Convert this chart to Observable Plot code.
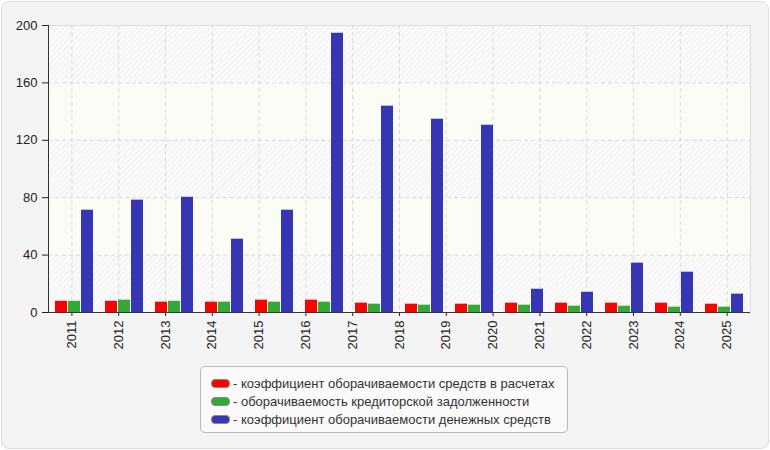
<!DOCTYPE html>
<html><head><meta charset="utf-8">
<script src="https://cdn.jsdelivr.net/npm/d3@7"></script>
<script src="https://cdn.jsdelivr.net/npm/@observablehq/plot@0.6"></script>
<style>
html,body{margin:0;padding:0;background:#fff;width:770px;height:450px;overflow:hidden;}
#panel{position:absolute;left:1px;top:1px;width:766px;height:446px;border:1px solid #dcdcdc;border-radius:8px;background:#f4f4f4;}
.layer{position:absolute;left:0;top:0;}
#legend{position:absolute;left:200px;top:366px;width:368px;height:67px;border:1px solid #b9b9b9;border-radius:5px;background:#fafafa;box-sizing:border-box;padding-top:7px;font-family:"Liberation Sans",Arial,sans-serif;font-size:13px;color:#333;}
.row{height:18px;display:flex;align-items:center;padding-left:10px;white-space:nowrap;}
.sw{width:17px;height:7px;border:1px solid #8a8a8a;border-radius:4px;margin-right:3px;}
</style></head><body>
<div id="panel"></div>
<div id="back" class="layer"></div>
<div id="bars" class="layer"></div>
<div id="legend"></div>
<script>
// tick labels on the x axis
const years = ["2011","2012","2013","2014","2015","2016","2017","2018","2019","2020","2021","2022","2023","2024","2025"];
// y ticks
const yTicks = [0, 40, 80, 120, 160, 200];
// series (14 bar groups as drawn in the reference)
const seriesNames = [
  "коэффициент оборачиваемости средств в расчетах",
  "оборачиваемость кредиторской задолженности",
  "коэффициент оборачиваемости денежных средств"
];
const seriesColors = ["#ff0000", "#35a935", "#3636b4"];
const receivablesTurnover = [7.8, 7.8, 7.2, 7.2, 8.6, 8.6, 6.5, 5.8, 5.8, 6.5, 6.5, 6.5, 6.5, 5.8];
const payablesTurnover    = [7.8, 8.6, 7.8, 7.2, 7.2, 7.2, 5.8, 5.1, 5.1, 5.1, 4.4, 4.4, 3.7, 3.7];
const cashTurnover        = [71.3, 78.3, 80.3, 51.1, 71.3, 194.6, 143.8, 134.7, 130.5, 16.2, 14.1, 34.4, 28.1, 12.8];

const seriesValues = [receivablesTurnover, payablesTurnover, cashTurnover];
const rows = [];
receivablesTurnover.forEach((_, i) => {
  seriesNames.forEach((name, s) => rows.push({group: i, series: name, value: seriesValues[s][i]}));
});

const W = 770, H = 362, ML = 48, MR = 20, MT = 25, MB = 50;
const font = "Liberation Sans, Arial, sans-serif";

const tickPos = years.map((y, i) => i + 0.5);
const bands = yTicks.slice(0, -1).map((v, i) => ({y1: v, y2: yTicks[i + 1], hatched: i % 2 === 0}));

const back = Plot.plot({
  width: W, height: H, marginLeft: ML, marginRight: MR, marginTop: MT, marginBottom: MB,
  style: {background: "transparent", fontFamily: font, fontSize: "13px", color: "#222"},
  x: {type: "linear", domain: [0, years.length], ticks: tickPos, tickFormat: d => years[Math.floor(d)], tickRotate: -90, tickSize: 4, tickPadding: 4, label: null},
  y: {domain: [0, 200], ticks: yTicks, tickSize: 6, tickPadding: 5, label: null},
  marks: [
    Plot.rect(bands.filter(d => d.hatched), {y1: "y1", y2: "y2", fill: "url(#hatch)"}),
    Plot.rect(bands.filter(d => !d.hatched), {y1: "y1", y2: "y2", fill: "#fcfcf6"}),
    Plot.ruleY(yTicks.slice(1, -1), {stroke: "#d9d9d9", strokeDasharray: "4,3"}),
    Plot.ruleX(tickPos, {stroke: "#d9d9d9", strokeDasharray: "4,3"}),
    Plot.ruleY([200], {stroke: "#dcdcdc"}),
    Plot.ruleX([years.length], {stroke: "#dcdcdc"}),
    Plot.ruleX([0], {stroke: "#333"}),
    Plot.ruleY([0], {stroke: "#333"})
  ]
});
const defs = d3.select(back).insert("defs", ":first-child");
const pat = defs.append("pattern").attr("id", "hatch").attr("patternUnits", "userSpaceOnUse")
  .attr("width", 4).attr("height", 4).attr("patternTransform", "rotate(45)");
pat.append("rect").attr("width", 4).attr("height", 4).attr("fill", "#fbfbfb");
pat.append("line").attr("x1", 0).attr("y1", 0).attr("x2", 0).attr("y2", 4).attr("stroke", "#ececec").attr("stroke-width", 1.5);
document.getElementById("back").appendChild(back);

const bars = Plot.plot({
  width: W, height: H, marginLeft: ML, marginRight: MR, marginTop: MT, marginBottom: MB,
  style: {background: "transparent"},
  facet: {data: rows, x: "group"},
  fx: {axis: null, paddingInner: 0.18, paddingOuter: 0.09},
  x: {axis: null, domain: seriesNames, paddingInner: 0.06, paddingOuter: 0},
  y: {axis: null, domain: [0, 200]},
  color: {domain: seriesNames, range: seriesColors},
  marks: [
    Plot.barY(rows, {x: "series", y: "value", fill: "series"})
  ]
});
document.getElementById("bars").appendChild(bars);

const legend = d3.select("#legend");
seriesNames.forEach((name, i) => {
  const r = legend.append("div").attr("class", "row");
  r.append("div").attr("class", "sw").style("background", seriesColors[i]);
  r.append("span").text("- " + name);
});
</script>
</body></html>
